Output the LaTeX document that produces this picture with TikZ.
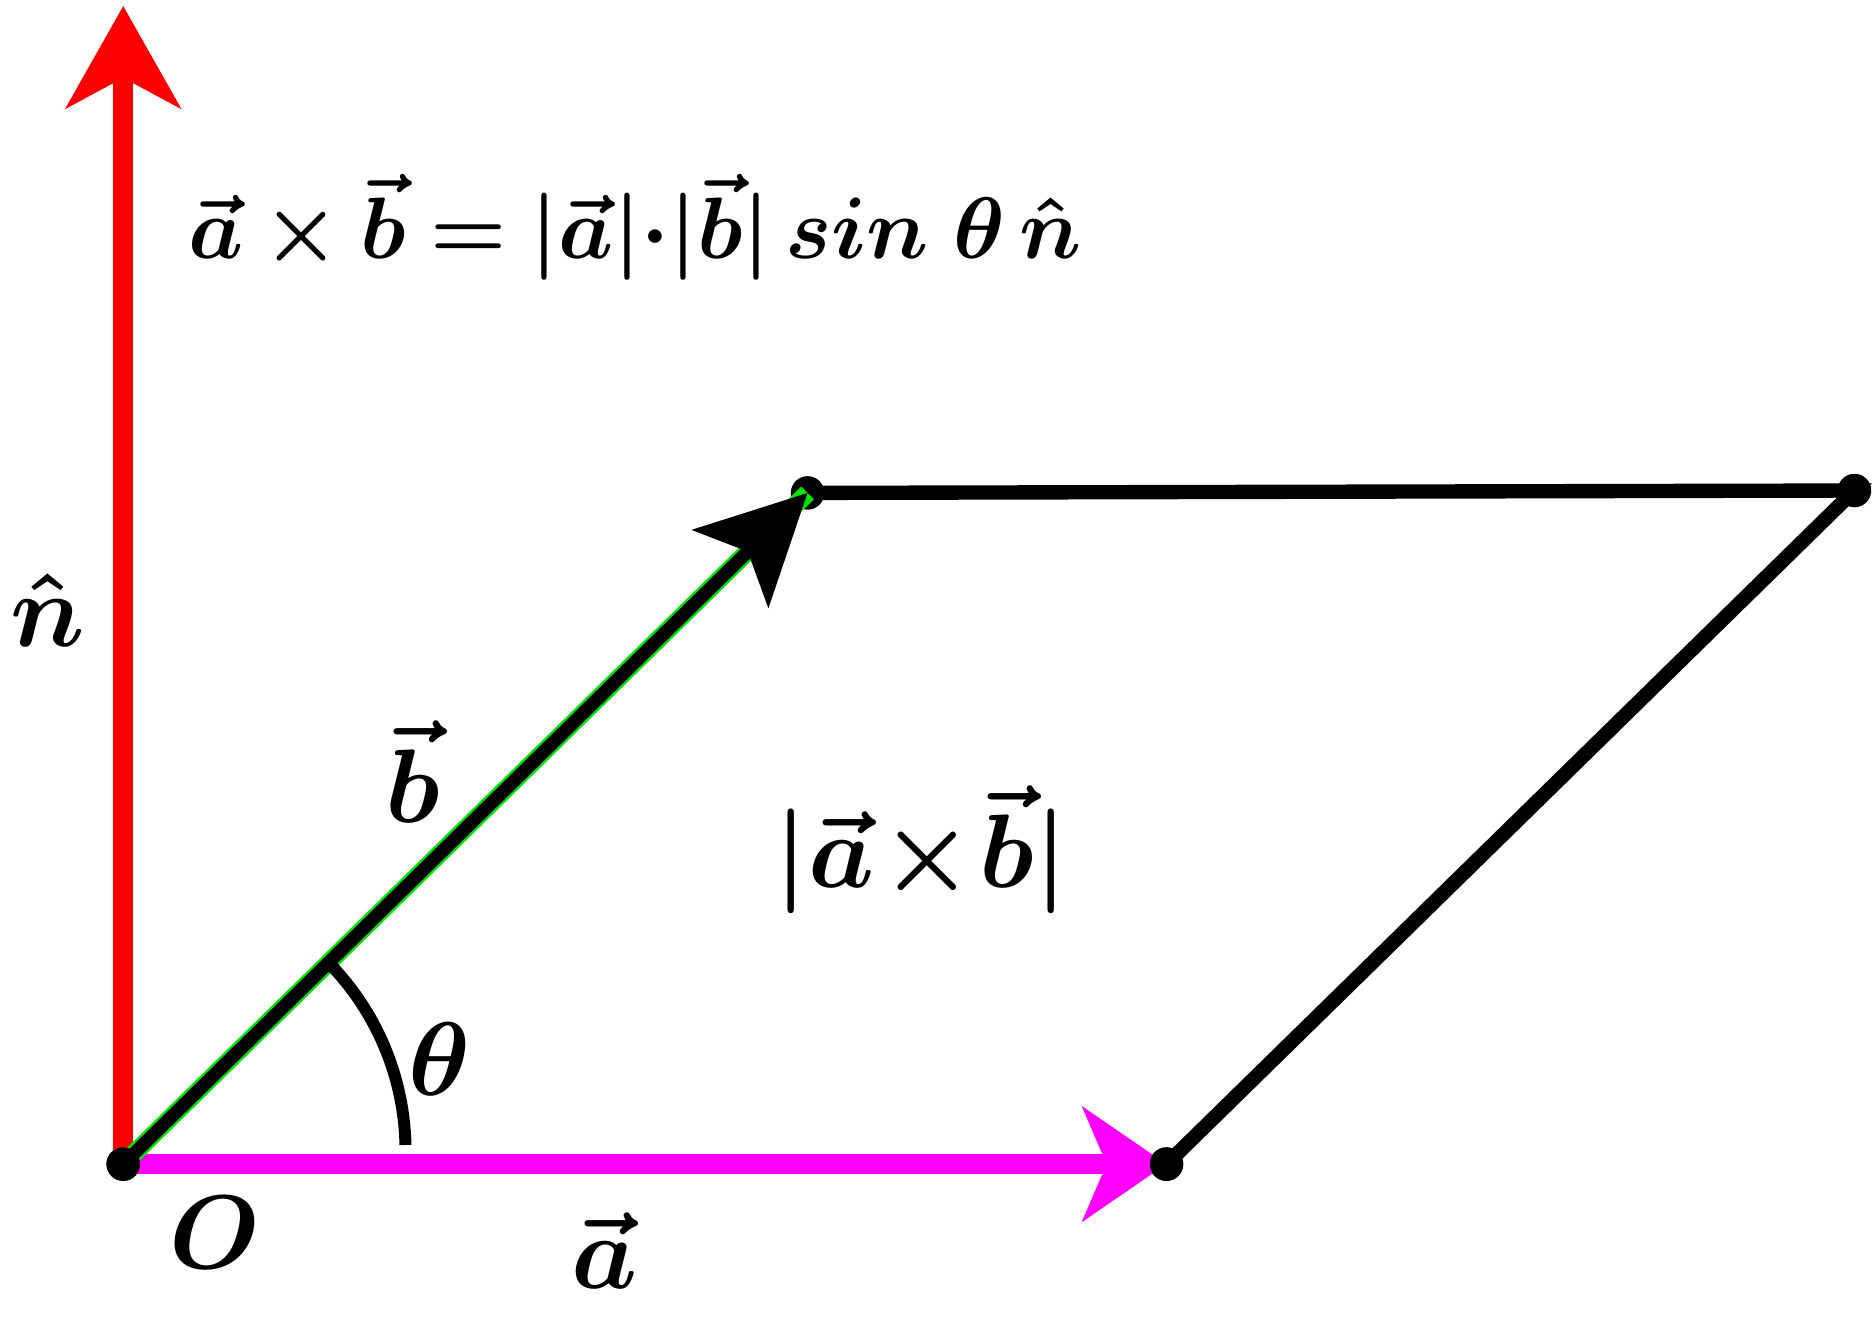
\documentclass[tikz,border=0pt]{standalone}
\usepackage{amsmath,bm}
\usetikzlibrary{arrows.meta}
\definecolor{mag}{RGB}{255,0,255}
\definecolor{red1}{RGB}{255,0,0}
\definecolor{grn}{RGB}{0,230,0}
\begin{document}
\begin{tikzpicture}[x=0.01cm,y=-0.01cm,
  lbl/.style={font=\fontsize{24}{28}\selectfont},
  dot/.style={circle,fill=black,inner sep=0pt,minimum size=0.28cm}]
\useasboundingbox (0,0) rectangle (1568,1104);
\node[dot] (O) at (103,973) {};
\node[dot] (A) at (975,973) {};
\node[dot] (B) at (675,412) {};
\node[dot] (C) at (1550,410) {};
\coordinate (N) at (103,5);
\draw[red1,line width=0.17cm,-{Stealth[length=0.85cm,width=0.95cm,inset=0.25cm]}] (O.center) -- (N);
\draw[line width=0.12cm] (B.center) -- (C.center) -- (A.center);
\draw[mag,line width=0.17cm,-{Stealth[length=0.7cm,width=0.95cm,inset=0.2cm]}] (O.center) -- (A.center);
\draw[grn,line width=0.15cm] (O.center) -- (B.center);
\draw[black,line width=0.11cm,-{Stealth[length=0.9cm,width=0.9cm,inset=0.2cm]}] (O.center) -- (B.center);
\node[dot] at (O) {};
\node[dot] at (A) {};
\draw[line width=0.1cm] (275,805) arc[start angle=-44.3,end angle=-1.3,radius=225];
\node[lbl] (th) at (367,885) {$\bm\theta$};
\node[lbl] (n) at (40,510) {$\bm{\hat n}$};
\node[lbl] (bv) at (345,645) {$\bm{\vec b}$};
\node[lbl] (ab) at (770,710) {$\bm{|\vec a\!\times\!\vec b|}$};
\node[lbl] (Ol) at (180,1030) {$\bm O$};
\node[lbl] (av) at (505,1045) {$\bm{\vec a}$};
\node[lbl,anchor=west,font=\fontsize{22}{26}\selectfont] (f) at (145,190) {$\bm{\vec a\times\vec b=|\vec a|{\cdot}|\vec b|\, sin\;\theta\,\hat n}$};
\end{tikzpicture}
\end{document}
